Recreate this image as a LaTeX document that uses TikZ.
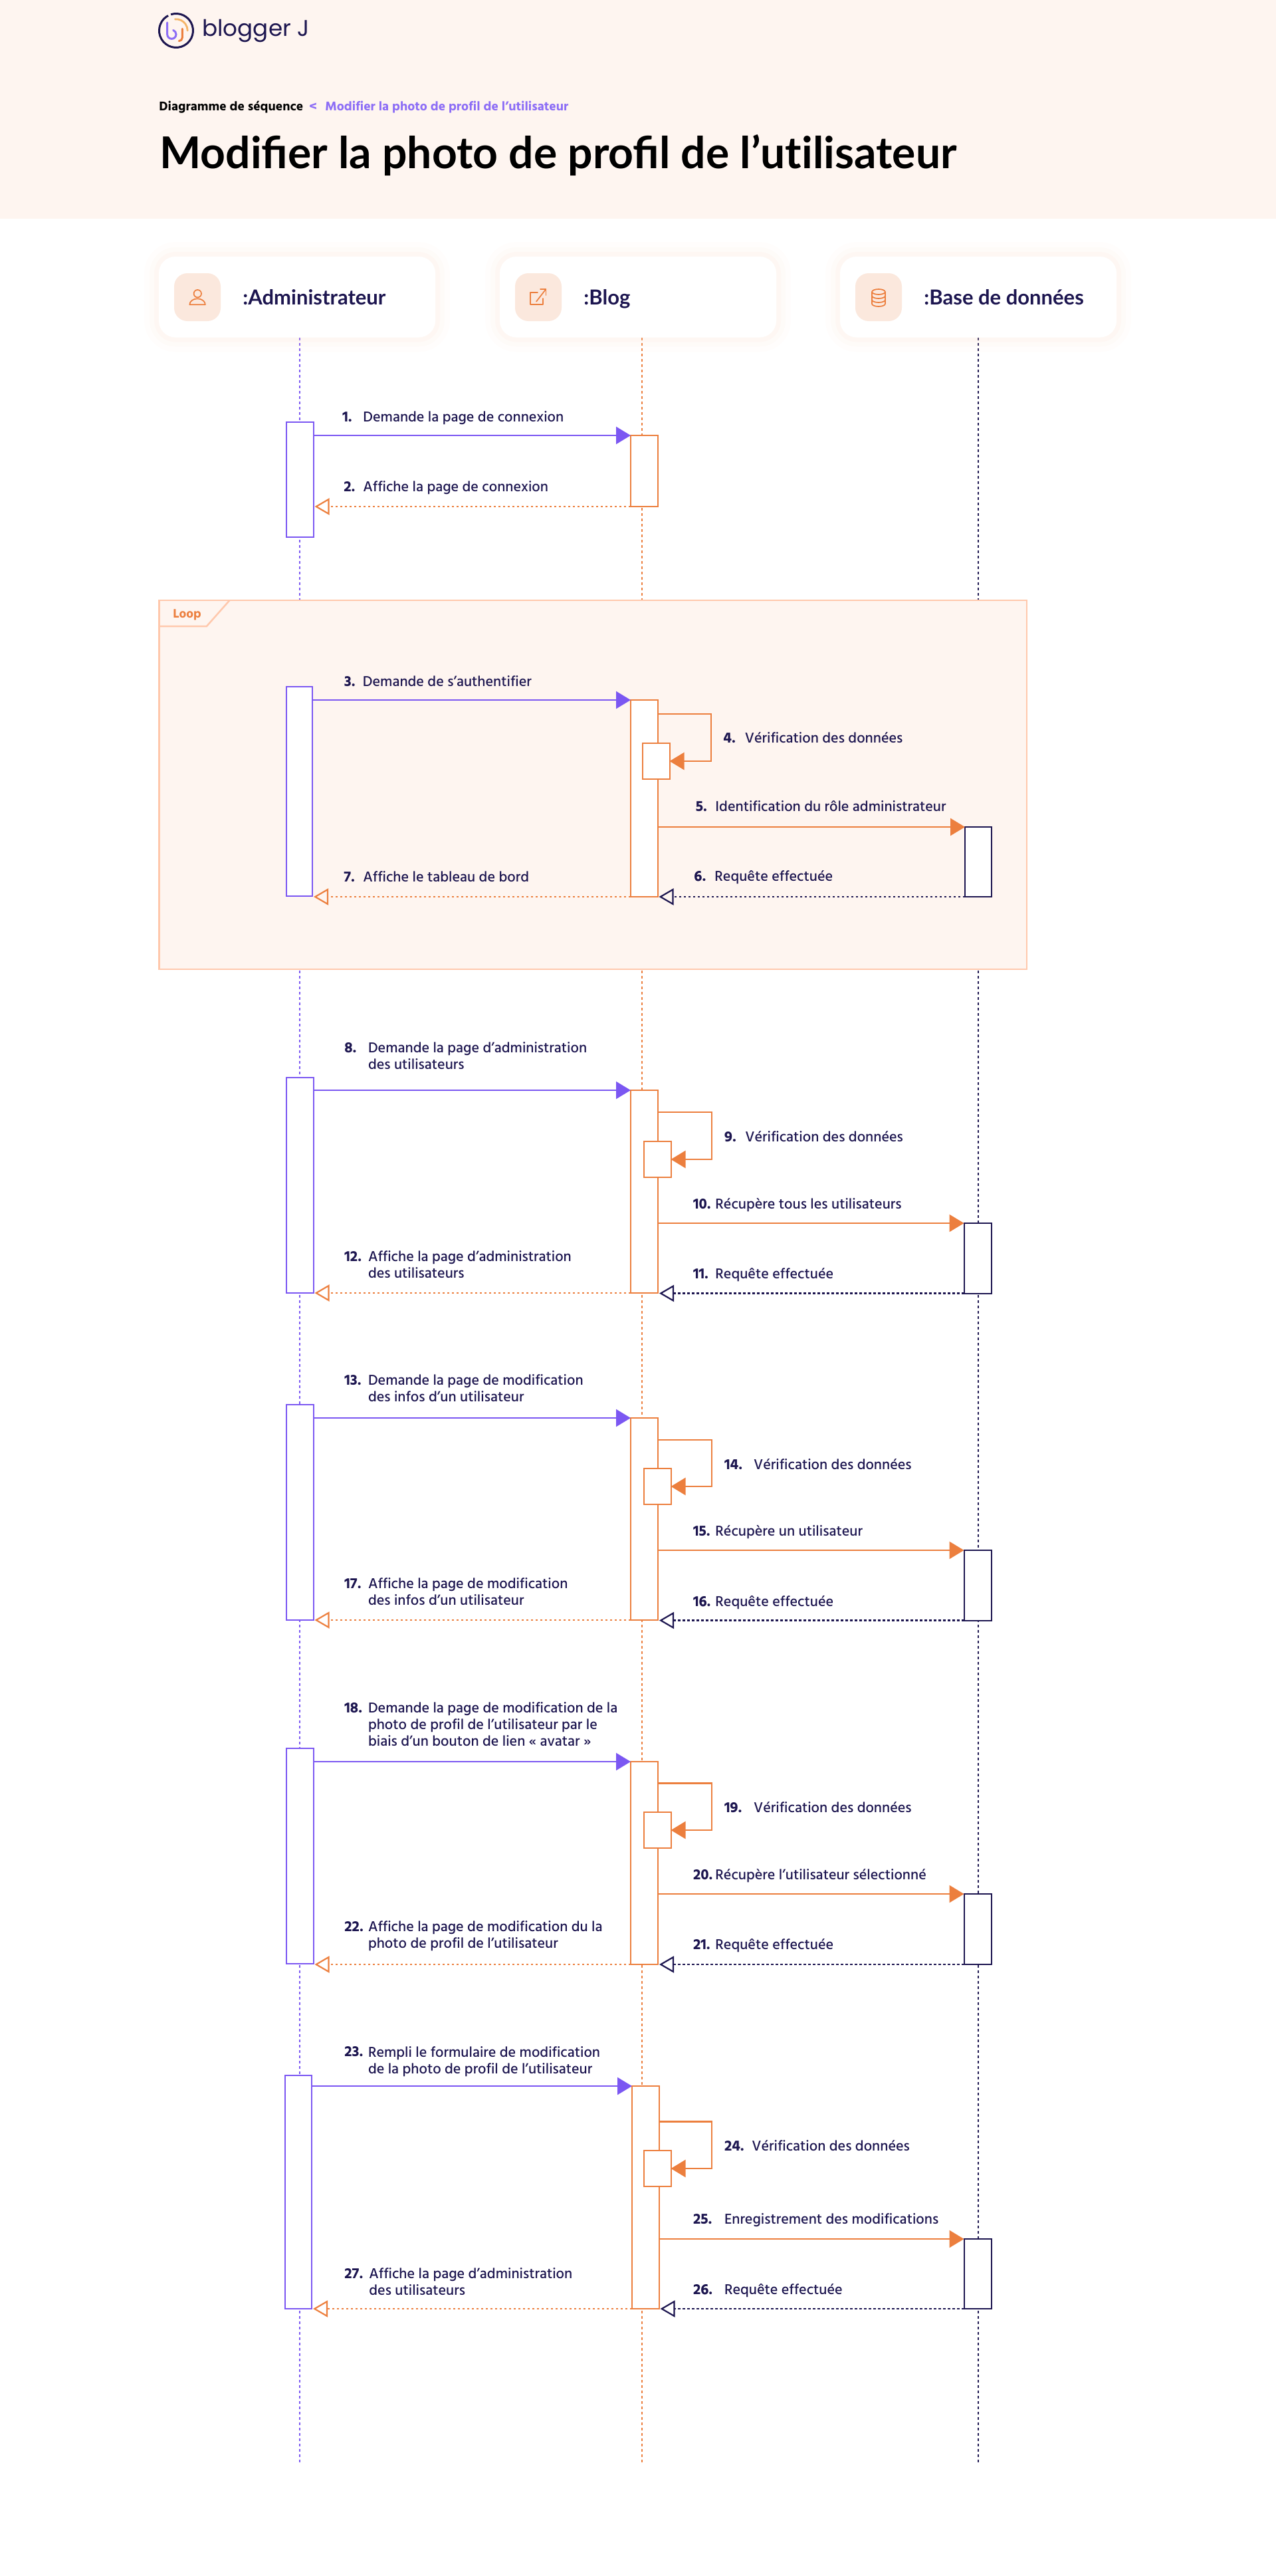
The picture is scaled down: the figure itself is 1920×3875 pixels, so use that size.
\documentclass[tikz,border=0pt]{standalone}
\usepackage{fontspec}
\usetikzlibrary{arrows.meta, calc}
\newfontfamily\msgfont[BoldFont={Hind Madurai Bold}]{Hind Madurai Medium}
\newfontfamily\headfont[BoldFont={Lato Bold}]{Lato}
\newfontfamily\logofont{Poppins}
\definecolor{violetline}{HTML}{7B57F2}
\definecolor{violettext}{HTML}{8C6DF6}
\definecolor{orangeline}{HTML}{EC7F3E}
\definecolor{navyline}{HTML}{1D1650}
\definecolor{headerbg}{HTML}{FEF5F0}
\definecolor{loopedge}{HTML}{FFC8AC}
\definecolor{iconbg}{HTML}{FBE8DD}
\definecolor{cardglow}{HTML}{F9D9C5}
\definecolor{logoyellow}{HTML}{F4B467}

\begin{document}
\begin{tikzpicture}[
  x=0.5pt, y=-0.5pt,
  card/.style = {fill=white, rounded corners=12.5pt, inner sep=0pt, outer sep=0pt,
    minimum width=208pt, minimum height=60.75pt,
    preaction={draw=cardglow, draw opacity=.05, line width=22pt},
    preaction={draw=cardglow, draw opacity=.07, line width=14pt},
    preaction={draw=cardglow, draw opacity=.10, line width=7pt}},
  iconbox/.style = {fill=iconbg, rounded corners=10pt, inner sep=0pt,
    minimum width=35pt, minimum height=36pt},
  iconline/.style = {draw=orangeline, line width=.85pt, line join=round, line cap=round},
  cardname/.style = {font=\headfont\bfseries\fontsize{15.5}{18}\selectfont, text=navyline,
    anchor=base west, inner sep=0pt},
  act/.style = {draw, fill=white, line width=1pt, inner sep=0pt, outer sep=0pt,
    minimum width=20.25pt, anchor=north west},
  actadmin/.style = {act, draw=violetline},
  actblog/.style = {act, draw=orangeline},
  actbase/.style = {act, draw=navyline},
  lifeline/.style = {line width=1pt, dash pattern=on 2pt off 2pt},
  msgcall/.style = {line width=1.25pt, -{Triangle[length=11pt, width=13pt]}},
  msgself/.style = {msgcall, draw=orangeline, line join=miter},
  msgback/.style = {line width=1.3pt, dash pattern=on 1.75pt off 1.75pt, shorten >=1pt,
    -{Triangle[open, length=11pt, width=12.5pt, line width=1.1pt]}},
  msgnum/.style = {font=\msgfont\bfseries\fontsize{11.28}{12.5}\selectfont, text=navyline,
    anchor=base west, inner sep=0pt},
  msgtxt/.style = {font=\msgfont\fontsize{11.03}{12.5}\selectfont, text=navyline,
    anchor=base west, inner sep=0pt, align=left},
  crumb/.style = {anchor=base west, inner sep=0pt, font=\msgfont\bfseries\fontsize{9.75}{12}\selectfont}
]
  \useasboundingbox (0,0) rectangle (1920,3875);

  % Header band
  \fill[headerbg] (0,0) rectangle (1920,329);

  % Logo
  \coordinate (logo) at (265,46);
  \draw[navyline, line width=1.5pt] ($(logo)+(108:12.75pt)$) arc (108:-242:12.75pt);
  \draw[logoyellow, line width=1.4pt, line cap=round] ($(logo)+(95:8.6pt)$) arc (95:0:8.6pt);
  \draw[violettext, line width=1.5pt, line cap=round] ($(logo)+(-13.3,-12)$) -- ($(logo)+(-13.3,5.7)$)
    arc (180:430:3.33pt);
  \draw[orangeline, line width=1.5pt, line cap=round] ($(logo)+(9.3,-2.7)$) -- ($(logo)+(9.3,10.7)$)
    arc (0:-90:2.5pt);
  \node[font=\logofont\fontsize{17.1}{20}\selectfont, text=navyline,
    anchor=base west, inner sep=0pt] (logoname) at (304,55) {blogger J};

  % Breadcrumb and title
  \node[crumb] (crumbroot) at (239,167) {Diagramme de séquence};
  \node[crumb, text=violettext] (crumbsep) at (465,167) {<};
  \node[crumb, text=violettext] (crumbpage) at (489,167) {Modifier la photo de profil de l’utilisateur};
  \node[anchor=base west, inner sep=0pt, font=\headfont\bfseries\fontsize{33}{40}\selectfont] (pagetitle)
    at (240,254) {Modifier la photo de profil de l’ut\kern0pt ilisateur};

  % Lifelines, the loop frame goes over them
  \coordinate (lifeadmin) at (450.5,3704);
  \coordinate (lifeblog) at (966,3704);
  \coordinate (lifebase) at (1472,3704);
  \draw[lifeline, violetline] (450.5,508) -- (lifeadmin);
  \draw[lifeline, orangeline] (966,508) -- (lifeblog);
  \draw[lifeline, navyline] (1472,508) -- (lifebase);

  % Header cards
  \node[card] (cardadmin) at (447,446.75) {};
  \node[card] (cardblog) at (960,446.75) {};
  \node[card] (cardbase) at (1472,446.75) {};

  \node[iconbox] (iconadmin) at (297,447) {};
  \node[iconbox] (iconblog) at (810,447) {};
  \node[iconbox] (iconbase) at (1322,447) {};

  \node[cardname] (nameadmin) at (365,458) {:Administrateur};
  \node[cardname] (nameblog) at (878,458) {:Blog};
  \node[cardname] (namebase) at (1390,458) {:Base de données};

  % Person icon
  \begin{scope}[shift={(iconadmin.center)}]
    \draw[iconline] (0.3,-5.3) circle[radius=2.85pt];
    \draw[iconline] (-11.7,11.3) arc[start angle=180, end angle=0, x radius=5.9pt, y radius=4.5pt] -- cycle;
  \end{scope}

  % Link icon
  \begin{scope}[shift={(iconblog.center)}]
    \draw[iconline] (-1,-7) -- (-12,-7) -- (-12,11) -- (7,11) -- (7,2);
    \draw[iconline] (-3,6.6) -- (11.4,-12);
    \draw[iconline] (3,-12) -- (11.4,-12) -- (11.4,-3);
  \end{scope}

  % Database icon
  \begin{scope}[shift={(iconbase.center)}]
    \draw[iconline] (0,-8) ellipse[x radius=4.95pt, y radius=2pt];
    \draw[iconline] (-10,-8) -- (-10,10) arc[start angle=180, end angle=360, x radius=5pt, y radius=2pt] -- (10,-8);
    \draw[iconline] (-10,-2) arc[start angle=180, end angle=360, x radius=5pt, y radius=2pt];
    \draw[iconline] (-10,4) arc[start angle=180, end angle=360, x radius=5pt, y radius=2pt];
  \end{scope}

  % First exchange
  \node[actadmin, minimum height=86.25pt] (admin1) at (431,635) {};
  \node[actblog, minimum height=53.5pt] (blog1) at (949,655) {};
  \draw[msgcall, violetline] (admin1.east |- blog1.north west) -- (blog1.north west);
  \draw[msgback, orangeline] (blog1.south west) -- (admin1.east |- blog1.south west);
  \node[msgnum] (num1) at (515,634) {1.};
  \node[msgtxt] (txt1) at (546,634) {Demande la page de connexion};
  \node[msgnum] (num2) at (517,739) {2.};
  \node[msgtxt] (txt2) at (546,739) {Affiche la page de connexion};

  % Loop frame
  \node[draw=loopedge, fill=headerbg, line width=1.25pt, inner sep=0pt, outer sep=0pt, anchor=north west,
    minimum width=652.75pt, minimum height=277.5pt] (loopframe) at (239.5,903) {};
  \coordinate (loopfoot) at (311,942);
  \coordinate (looptop) at (345.5,903);
  \draw[loopedge, line width=1.25pt] (loopframe.west |- loopfoot) -- (loopfoot) -- (looptop);
  \node[anchor=base west, inner sep=0pt, font=\msgfont\bfseries\fontsize{9.5}{11}\selectfont, text=orangeline] (looplabel)
    at (260,929) {Loop};

  % Exchange in the loop
  \node[actadmin, minimum width=19.5pt, minimum height=157.5pt] (admin2) at (431,1033) {};
  \node[actblog, minimum height=148pt] (blog2) at (949,1053) {};
  \node[actblog, minimum width=20.5pt, minimum height=27pt] (self2) at (966.5,1118) {};
  \node[actbase, minimum width=20pt, minimum height=52.5pt] (base2) at (1452,1244) {};
  \coordinate (turn2) at (1070,1074);
  \draw[msgcall, violetline] (admin2.east |- blog2.north west) -- (blog2.north west);
  \draw[msgself] (blog2.east |- turn2) -- (turn2) |- (self2.east);
  \draw[msgcall, orangeline] (blog2.east |- base2.north west) -- (base2.north west);
  \draw[msgback, navyline] (base2.south west) -- (blog2.east |- base2.south west);
  \draw[msgback, orangeline] (blog2.south west) -- (admin2.east |- blog2.south west);
  \node[msgnum] (num3) at (517.5,1032) {3.};
  \node[msgtxt] (txt3) at (545.5,1032) {Demande de s’authentifier};
  \node[msgnum] (num4) at (1088,1117) {4.};
  \node[msgtxt] (txt4) at (1120.5,1117) {Vérification des données};
  \node[msgnum] (num5) at (1046.4,1220) {5.};
  \node[msgtxt] (txt5) at (1076,1220) {Identification du rôle administrateur};
  \node[msgnum] (num6) at (1044,1325) {6.};
  \node[msgtxt] (txt6) at (1075,1325) {Requête effectuée};
  \node[msgnum] (num7) at (517,1326) {7.};
  \node[msgtxt] (txt7) at (546,1326) {Affiche le tableau de bord};

  % Administration page
  \node[actadmin, minimum height=162pt] (admin3) at (431,1621) {};
  \node[actblog, minimum width=20.5pt, minimum height=152.5pt] (blog3) at (949,1640) {};
  \node[actblog, minimum height=27pt] (self3) at (969,1717) {};
  \node[actbase, minimum width=20.5pt, minimum height=52.75pt] (base3) at (1450.5,1840) {};
  \coordinate (turn3) at (1071,1673);
  \draw[msgcall, violetline] (admin3.east |- blog3.north west) -- (blog3.north west);
  \draw[msgself] (blog3.east |- turn3) -- (turn3) |- (self3.east);
  \draw[msgcall, orangeline] (blog3.east |- base3.north west) -- (base3.north west);
  \draw[msgback, navyline] (base3.south west) -- (blog3.east |- base3.south west);
  \draw[msgback, orangeline] (blog3.south west) -- (admin3.east |- blog3.south west);
  \node[msgnum] (num8) at (518,1583) {8.};
  \node[msgtxt] (txt8) at (553.6,1608) {Demande la page d’administration\\des utilisateurs};
  \node[msgnum] (num9) at (1089.6,1717) {9.};
  \node[msgtxt] (txt9) at (1121,1717) {Vérification des données};
  \node[msgnum] (num10) at (1042.6,1818) {10.};
  \node[msgtxt] (txt10) at (1076,1818) {Récupère tous les utilisateurs};
  \node[msgnum] (num11) at (1042.6,1923) {11.};
  \node[msgtxt] (txt11) at (1076,1923) {Requête effectuée};
  \node[msgnum] (num12) at (518,1897) {12.};
  \node[msgtxt] (txt12) at (553.6,1922) {Affiche la page d’administration\\des utilisateurs};

  % Modification page
  \node[actadmin, minimum height=162pt] (admin4) at (431,2113) {};
  \node[actblog, minimum width=20.5pt, minimum height=152pt] (blog4) at (949,2133) {};
  \node[actblog, minimum height=27pt] (self4) at (969,2209) {};
  \node[actbase, minimum width=20.5pt, minimum height=52.75pt] (base4) at (1450.5,2332) {};
  \coordinate (turn4) at (1071,2166);
  \draw[msgcall, violetline] (admin4.east |- blog4.north west) -- (blog4.north west);
  \draw[msgself] (blog4.east |- turn4) -- (turn4) |- (self4.east);
  \draw[msgcall, orangeline] (blog4.east |- base4.north west) -- (base4.north west);
  \draw[msgback, navyline] (base4.south west) -- (blog4.east |- base4.south west);
  \draw[msgback, orangeline] (blog4.south west) -- (admin4.east |- blog4.south west);
  \node[msgnum] (num13) at (518,2083) {13.};
  \node[msgtxt] (txt13) at (553.6,2108) {Demande la page de modification\\des infos d’un utilisateur};
  \node[msgnum] (num14) at (1089.6,2210) {14.};
  \node[msgtxt] (txt14) at (1133.8,2210) {Vérification des données};
  \node[msgnum] (num15) at (1042.6,2310.7) {15.};
  \node[msgtxt] (txt15) at (1076,2310.7) {Récupère un utilisateur};
  \node[msgnum] (num16) at (1042.6,2416.7) {16.};
  \node[msgtxt] (txt16) at (1076,2416.7) {Requête effectuée};
  \node[msgnum] (num17) at (518,2389) {17.};
  \node[msgtxt] (txt17) at (553.6,2414) {Affiche la page de modification\\des infos d’un utilisateur};

  % Photo modification page
  \node[actadmin, minimum height=162pt] (admin5) at (431,2630) {};
  \node[actblog, minimum width=20.5pt, minimum height=152.5pt] (blog5) at (949,2650) {};
  \node[actblog, minimum height=27pt] (self5) at (969,2726) {};
  \node[actbase, minimum width=20.5pt, minimum height=53pt] (base5) at (1450.5,2849) {};
  \coordinate (turn5) at (1071,2682.7);
  \draw[msgcall, violetline] (admin5.east |- blog5.north west) -- (blog5.north west);
  \draw[msgself] (blog5.east |- turn5) -- (turn5) |- (self5.east);
  \draw[msgcall, orangeline] (blog5.east |- base5.north west) -- (base5.north west);
  \draw[msgback, navyline] (base5.south west) -- (blog5.east |- base5.south west);
  \draw[msgback, orangeline] (blog5.south west) -- (admin5.east |- blog5.south west);
  \node[msgnum] (num18) at (518,2576.7) {18.};
  \node[msgtxt] (txt18) at (553.6,2626.7) {Demande la page de modification de la\\photo de profil de l’utilisateur par le\\biais d’un bouton de lien « avatar »};
  \node[msgnum] (num19) at (1089.6,2726.7) {19.};
  \node[msgtxt] (txt19) at (1133.8,2726.7) {Vérification des données};
  \node[msgnum] (num20) at (1042.6,2827) {20.};
  \node[msgtxt] (txt20) at (1076,2827) {Récupère l’utilisateur sélectionné};
  \node[msgnum] (num21) at (1042.6,2932.7) {21.};
  \node[msgtxt] (txt21) at (1076,2932.7) {Requête effectuée};
  \node[msgnum] (num22) at (518,2905.7) {22.};
  \node[msgtxt] (txt22) at (553.6,2930.7) {Affiche la page de modification du la\\photo de profil de l’utilisateur};

  % Form submission
  \node[actadmin, minimum width=20pt, minimum height=175.5pt] (admin6) at (429,3122) {};
  \node[actblog, minimum height=167.5pt] (blog6) at (951,3138) {};
  \node[actblog, minimum height=27pt] (self6) at (969,3235) {};
  \node[actbase, minimum width=20.5pt, minimum height=52.5pt] (base6) at (1450.5,3368) {};
  \coordinate (turn6) at (1071,3191.3);
  \draw[msgcall, violetline] (admin6.east |- blog6.north west) -- (blog6.north west);
  \draw[msgself] (blog6.east |- turn6) -- (turn6) |- (self6.east);
  \draw[msgcall, orangeline] (blog6.east |- base6.north west) -- (base6.north west);
  \draw[msgback, navyline] (base6.south west) -- (blog6.east |- base6.south west);
  \draw[msgback, orangeline] (blog6.south west) -- (admin6.east |- blog6.south west);
  \node[msgnum] (num23) at (518,3093.3) {23.};
  \node[msgtxt] (txt23) at (553.6,3119) {Rempli le formulaire de modification\\de la photo de profil de l’utilisateur};
  \node[msgnum] (num24) at (1089.6,3235.7) {24.};
  \node[msgtxt] (txt24) at (1131,3235.7) {Vérification des données};
  \node[msgnum] (num25) at (1042.6,3345.7) {25.};
  \node[msgtxt] (txt25) at (1089.6,3345.7) {Enregistrement des modifications};
  \node[msgnum] (num26) at (1042.6,3451.7) {26.};
  \node[msgtxt] (txt26) at (1089.6,3451.7) {Requête effectuée};
  \node[msgnum] (num27) at (518,3427.7) {27.};
  \node[msgtxt] (txt27) at (555,3452.7) {Affiche la page d’administration\\des utilisateurs};

\end{tikzpicture}
\end{document}
